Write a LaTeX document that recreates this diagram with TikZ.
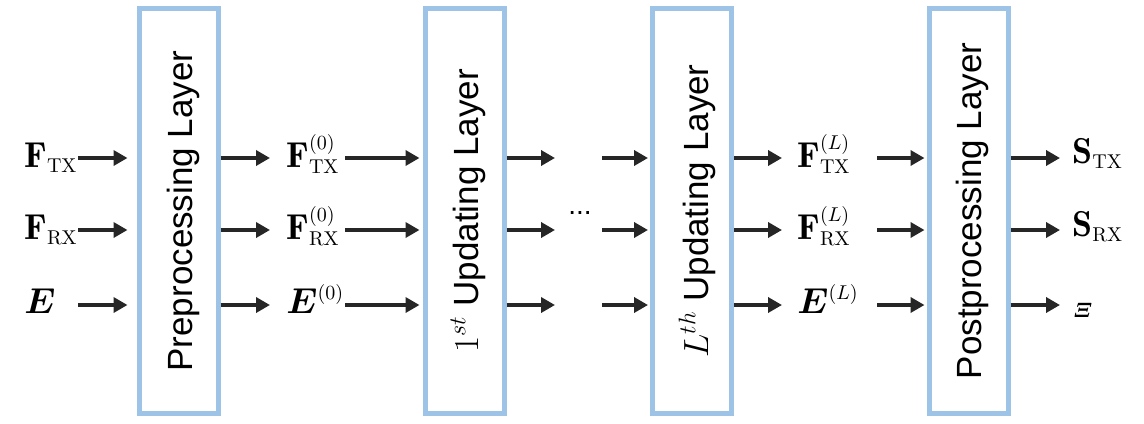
\RequirePackage{fix-cm}
\documentclass[tikz,border=0pt]{standalone}
\usepackage{amsmath}
\usepackage{bm}
\usepackage{fontspec}
\newfontfamily\laysf{Liberation Sans}
\DeclareMathSizes{18}{18}{10}{7.5}
\DeclareMathSizes{17.5}{17.5}{12}{9}
\DeclareMathSizes{10.5}{10.5}{7}{5}
\usetikzlibrary{arrows.meta}
\definecolor{boxblue}{RGB}{157,195,230}
\definecolor{arrgray}{RGB}{38,38,38}
\begin{document}
\begin{tikzpicture}[x=0.5pt,y=-0.5pt,
  layer/.style={draw=boxblue,line width=2.5pt,minimum width=39.5pt,minimum height=202.5pt,inner sep=0pt},
  arr/.style={draw=arrgray,line width=2pt,-{Triangle[length=7pt,width=7.5pt]}},
  lab/.style={anchor=base west,inner sep=0pt,font=\fontsize{18}{21}\selectfont},
  laytext/.style={rotate=90,inner sep=0pt,font=\laysf\fontsize{17.5}{21}\selectfont}]
\useasboundingbox (0,0) rectangle (1144,423);

% layer boxes
\node[layer] (pre)  at (178.5,210.5) {};
\node[layer] (up1)  at (464.5,211) {};
\node[layer] (upL)  at (692,211) {};
\node[layer] (post) at (968.5,211) {};
\node[laytext] (pret)  at (183,211) {Preprocessing Layer};
\node[laytext] (up1t)  at (468,211) {$1^{st}$ Updating Layer};
\node[laytext] (upLt)  at (697,211) {$L^{th}$ Updating Layer};
\node[laytext] (postt) at (972,211) {Postprocessing Layer};

% rows and columns
\coordinate (r1) at (0,158);
\coordinate (r2) at (0,230);
\coordinate (r3) at (0,305);
\coordinate (c1) at (78,0);
\coordinate (c2) at (270,0);
\coordinate (c3) at (345,0);
\coordinate (c4) at (555,0);
\coordinate (c5) at (602,0);
\coordinate (c6) at (782,0);
\coordinate (c7) at (877,0);
\coordinate (c8) at (1060,0);

% labels
\node[lab] (in1) at (24,167) {$\mathbf{F}_{\mathrm{TX}}$};
\node[lab] (in2) at (24,239) {$\mathbf{F}_{\mathrm{RX}}$};
\node[lab] (in3) at (24,313) {$\bm{E}$};
\node[lab] (z1) at (286,167) {$\mathbf{F}_{\mathrm{TX}}^{(0)}$};
\node[lab] (z2) at (286,239) {$\mathbf{F}_{\mathrm{RX}}^{(0)}$};
\node[lab] (z3) at (286,313) {$\bm{E}^{(0)}$};
\node[lab] (l1) at (797,167) {$\mathbf{F}_{\mathrm{TX}}^{(L)}$};
\node[lab] (l2) at (797,239) {$\mathbf{F}_{\mathrm{RX}}^{(L)}$};
\node[lab] (l3) at (797,313) {$\bm{E}^{(L)}$};
\node[lab] (o1) at (1072,163) {$\mathbf{S}_{\mathrm{TX}}$};
\node[lab] (o2) at (1072,236) {$\mathbf{S}_{\mathrm{RX}}$};
\node[lab,font=\fontsize{10.5}{12}\selectfont] (o3) at (1073,317) {$\bm{\varXi}$};
\node[inner sep=0pt,font=\laysf\fontsize{14}{14}\selectfont] (dots) at (580,213) {...};

% arrows
\foreach \r in {r1,r2,r3}{
  \draw[arr,shorten >=4.5pt] (c1 |- \r) -- (pre.west |- \r);
  \draw[arr] (pre.east |- \r) -- (c2 |- \r);
  \draw[arr,shorten >=1.5pt] (c3 |- \r) -- (up1.west |- \r);
  \draw[arr] (up1.east |- \r) -- (c4 |- \r);
  \draw[arr,shorten >=1pt] (c5 |- \r) -- (upL.west |- \r);
  \draw[arr] (upL.east |- \r) -- (c6 |- \r);
  \draw[arr,shorten >=1pt] (c7 |- \r) -- (post.west |- \r);
  \draw[arr] (post.east |- \r) -- (c8 |- \r);
}
\end{tikzpicture}
\end{document}
